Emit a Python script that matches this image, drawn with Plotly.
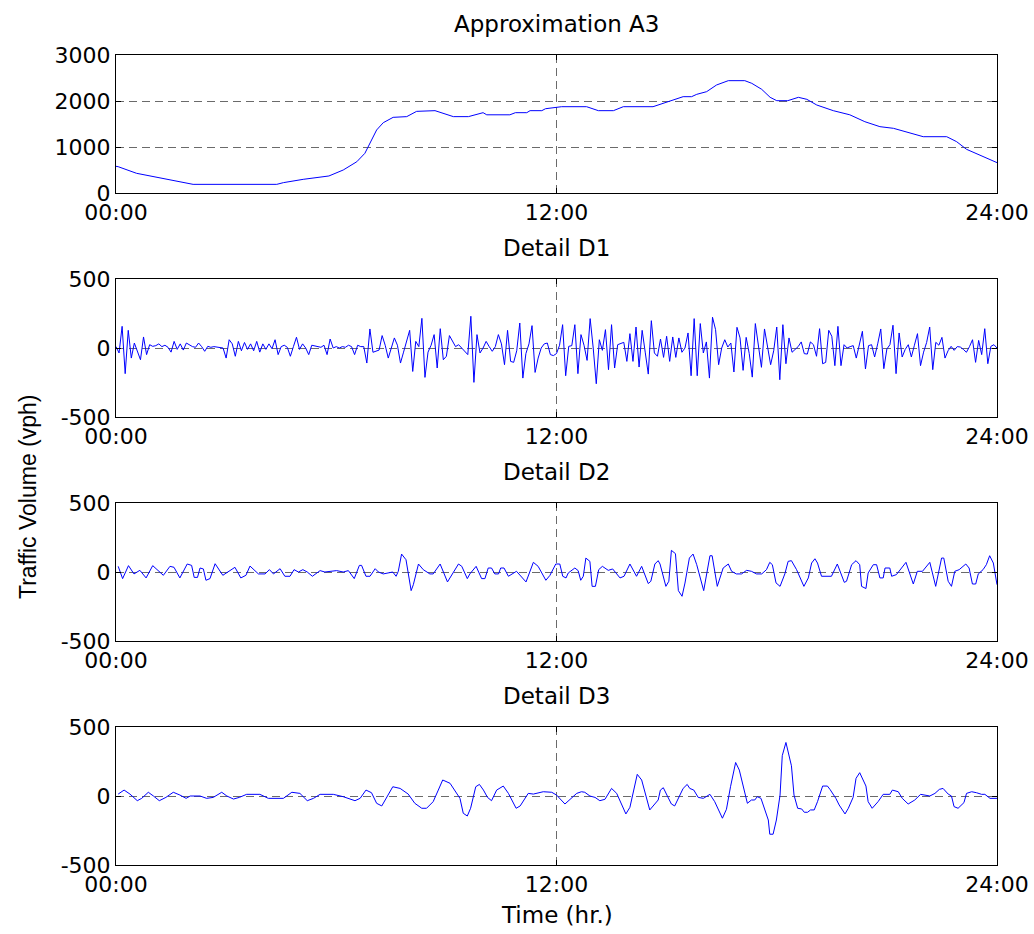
import numpy as np
import plotly.graph_objects as go

# ---------------- data ----------------
x_tick_vals = [0, 12, 24]
x_tick_text = ["00:00", "12:00", "24:00"]

a3_hours = [0.0, 0.06, 0.56, 1.02, 1.56, 2.10, 4.38, 4.56, 5.10, 5.56, 5.80, 6.19, 6.56, 6.78,
            6.97, 7.10, 7.28, 7.55, 7.92, 8.19, 8.69, 8.92, 9.19, 9.60, 9.83, 10.00, 10.10,
            10.73, 10.88, 11.19, 11.28, 11.60, 11.70, 12.14, 12.82, 13.00, 13.14, 13.55, 13.82,
            14.63, 15.09, 15.45, 15.68, 15.82, 16.09, 16.36, 16.68, 17.13, 17.32, 17.59, 17.82,
            18.00, 18.30, 18.59, 18.82, 19.09, 19.54, 19.99, 20.40, 20.81, 21.18, 21.63, 21.99,
            22.63, 22.90, 23.17, 23.54, 24.0]
a3_values = [580, 572, 428, 355, 268, 188, 188, 225, 297, 355, 370, 500, 680, 863,
             1152, 1370, 1528, 1645, 1660, 1775, 1790, 1732, 1660, 1660, 1717, 1746, 1700,
             1700, 1746, 1746, 1790, 1790, 1832, 1876, 1876, 1826, 1790, 1790, 1876,
             1876, 2007, 2094, 2094, 2145, 2203, 2348, 2442, 2442, 2384, 2254, 2080,
             2007, 2007, 2080, 2036, 1913, 1790, 1700, 1550, 1442, 1406, 1311, 1224,
             1224, 1116, 950, 826, 660]

# Detail D1: one value every 5 minutes (289 samples, one row per hour)
d1_values = [
    10, -36, 157, -186, 128, -73, 36, -20, -85, 80, -48, 24,
    12, 17, 30, 10, 20, 5, -30, 48, -10, 30, -15, 36,
    20, 10, 5, 36, 10, -24, 12, 5, 10, 5, 5, 0,
    -73, 60, 30, -60, 48, -20, 40, -10, 30, -20, 48, -30,
    30, -10, 30, -5, 60, -48, 10, 20, 5, -60, 10, 78,
    -10, 30, 0, -48, 20, 15, 10, 5, 20, -48, 65, 0,
    10, 0, 10, 5, 20, 10, -48, 20, 10, 10, -109, 138,
    -31, -20, -15, 90, 20, -73, 0, 73, 20, -109, -30, 40,
    128, -170, 48, 10, 215, -213, -30, 20, 97, -145, 140, -85,
    -60, 90, 48, 10, 24, 0, -20, -48, 230, -249, 97, -36,
    0, 48, 10, -24, 10, 97, 30, -121, 128, -97, -104, -20,
    181, -218, -40, 30, 162, -177, -73, 0, 30, 36, -48, -55,
    -40, 20, 169, -201, 12, 17, 169, -186, 97, 20, -90, 213,
    0, -259, 60, -17, 133, -157, 169, -145, 24, 30, 41, -97,
    104, -97, 152, -138, 128, -30, -189, 198, -36, -60, 65, -68,
    85, -97, 80, -68, 73, -31, 0, 109, -201, 213, -201, 177,
    -36, 44, -218, 223, 133, -121, 0, 60, 7, 36, -174, 150,
    73, -162, 77, -40, -211, 177, 20, -140, 138, 0, -121, -20,
    152, -230, 169, -114, 73, -31, -10, 10, 44, -41, -44, 44,
    24, -60, 140, -114, -104, 128, 85, -128, 157, -128, 24, 0,
    10, 17, -73, 20, 121, -152, 17, 24, -65, 30, 138, -150,
    -7, 24, 165, -186, 109, -65, -10, 24, -65, 20, 104, -128,
    -30, 40, 152, -157, 41, 20, 77, -73, -20, 12, -17, 10,
    7, -10, -31, 10, 60, -104, 55, -48, 140, -114, 12, 24,
    0,
]
d1_hours = np.arange(len(d1_values)) * 24.0 / (len(d1_values) - 1)

d2_hours = [0.06, 0.18, 0.34, 0.49, 0.65, 0.82, 1.00, 1.11, 1.29, 1.47, 1.58, 1.74, 1.94, 2.06,
            2.13, 2.22, 2.29, 2.38, 2.45, 2.56, 2.70, 2.91, 3.24, 3.40, 3.54, 3.65, 3.88, 4.06,
            4.18, 4.29, 4.47, 4.60, 4.74, 4.85, 4.97, 5.09, 5.21, 5.35, 5.56, 5.69, 6.01, 6.19,
            6.33, 6.49, 6.63, 6.69, 6.81, 6.92, 7.06, 7.15, 7.28, 7.54, 7.63, 7.69, 7.78, 7.90,
            7.96, 8.04, 8.10, 8.24, 8.37, 8.55, 8.64, 8.83, 9.03, 9.33, 9.42, 9.57, 9.64, 9.81,
            9.96, 10.05, 10.14, 10.23, 10.32, 10.42, 10.48, 10.57, 10.69, 10.91, 11.17, 11.37,
            11.50, 11.71, 11.82, 11.98, 12.09, 12.17, 12.26, 12.32, 12.50, 12.59, 12.66, 12.73,
            12.80, 12.91, 12.97, 13.06, 13.15, 13.25, 13.41, 13.53, 13.73, 13.84, 14.00, 14.18,
            14.32, 14.50, 14.57, 14.68, 14.77, 14.82, 14.98, 15.06, 15.13, 15.24, 15.32, 15.42,
            15.50, 15.62, 15.72, 15.82, 16.01, 16.18, 16.24, 16.38, 16.54, 16.68, 16.77, 16.90,
            17.04, 17.18, 17.31, 17.45, 17.59, 17.72, 17.81, 17.88, 17.98, 18.09, 18.22, 18.31,
            18.40, 18.54, 18.74, 18.86, 18.95, 19.04, 19.11, 19.22, 19.49, 19.65, 19.84, 19.90,
            20.04, 20.16, 20.26, 20.31, 20.43, 20.49, 20.63, 20.72, 20.81, 20.90, 20.95, 21.08,
            21.13, 21.26, 21.52, 21.72, 21.83, 21.97, 22.17, 22.33, 22.49, 22.55, 22.67, 22.76,
            22.85, 22.97, 23.15, 23.24, 23.33, 23.42, 23.49, 23.62, 23.71, 23.80, 23.90, 24.00]
d2_values = [41, -48, 46, -14, 12, -43, 46, 17, -24, 41, 34, -43, 58, 48,
             -39, -39, 29, 22, -60, -48, 60, -24, 34, -43, -24, 43, -14, -14,
             17, -14, 24, -31, -31, 17, 0, 17, 0, -31, 10, 0, 10, 0,
             10, -48, 48, 48, -31, -31, 24, 0, -14, 0, -31, 5, 130, 89,
             -7, -135, -92, 58, 17, -14, -14, 58, -72, 58, 41, -48, -14, 41,
             -48, -48, 29, 29, -14, -14, 29, 29, -31, 5, -72, 70,
             41, -60, -25, 58, 58, -31, -43, -7, 29, 10, -60, -31,
             101, 77, -104, -104, 17, 41, 12, 22, -43, -31, 58, -31,
             41, -84, -67, 58, 82, 58, -104, -67, 157, 133, -135, -176,
             -80, 101, 130, 53, -135, 118, 118, -104, 29, 58, 5, -14,
             -14, 12, 5, -14, -14, 17, 70, 53, -79, -104, -14, 77,
             82, 17, -104, -43, 65, 96, 65, -31, -31, 58, -75, -67,
             53, 82, 53, -104, -120, -7, 53, 53, -43, -43, 29, 29,
             -31, -19, 70, -87, 5, 5, 70, -104, 101, 101, -67, -104,
             5, 17, 58, 29, -87, -87, -14, 17, 53, 118, 65, -92]

d3_hours = [0.06, 0.22, 0.38, 0.58, 0.70, 0.88, 1.02, 1.18, 1.36, 1.56, 1.74, 1.91, 2.02, 2.29,
            2.47, 2.65, 2.88, 3.02, 3.20, 3.36, 3.56, 3.92, 4.15, 4.56, 4.79, 5.01, 5.21, 5.38,
            5.56, 5.92, 6.19, 6.51, 6.65, 6.81, 6.96, 7.10, 7.24, 7.36, 7.54, 7.74, 7.96, 8.14,
            8.33, 8.46, 8.64, 8.78, 8.90, 9.10, 9.28, 9.37, 9.46, 9.57, 9.66, 9.80, 9.90, 10.01,
            10.12, 10.23, 10.37, 10.55, 10.69, 10.90, 11.01, 11.14, 11.23, 11.37, 11.64, 11.87,
            12.00, 12.23, 12.36, 12.55, 12.68, 12.77, 12.91, 13.05, 13.18, 13.32, 13.50, 13.64,
            13.89, 14.00, 14.20, 14.32, 14.54, 14.71, 14.77, 14.83, 14.91, 15.02, 15.13, 15.22,
            15.32, 15.45, 15.56, 15.63, 15.74, 15.86, 16.00, 16.18, 16.31, 16.52, 16.63, 16.74,
            16.88, 16.98, 17.20, 17.31, 17.40, 17.47, 17.57, 17.68, 17.77, 17.81, 17.90, 17.99,
            18.09, 18.15, 18.25, 18.40, 18.47, 18.57, 18.68, 18.75, 18.84, 18.92, 19.02, 19.11,
            19.25, 19.38, 19.45, 19.61, 19.70, 19.86, 19.95, 20.08, 20.16, 20.26, 20.43, 20.49,
            20.60, 20.76, 20.90, 21.08, 21.15, 21.31, 21.42, 21.58, 21.76, 21.92, 22.03, 22.17,
            22.31, 22.43, 22.53, 22.67, 22.76, 22.83, 22.94, 23.10, 23.17, 23.31, 23.44, 23.58,
            23.67, 23.81, 24.00]
d3_values = [14, 43, 14, -34, -17, 27, 0, -34, -10, 27, 7, -17, 0, 0,
             -17, -10, 27, 0, -22, -10, 12, 12, -17, -17, 27, 19, -34, -17,
             12, 12, -5, -34, -17, 43, 24, -53, -72, -17, 67, 55, 14, -53,
             -89, -89, -41, 43, 116, 92, 19, -17, -125, -145, -89, 67, 84, 43,
             -10, -34, 43, 72, 19, -89, -72, -17, 19, 14, 31, 27,
             7, -58, -29, 19, 31, 27, 0, -10, -34, -24, 55, 19,
             -130, -82, 157, 116, -101, -53, -29, 43, 60, 0, -58, -72,
             -17, 55, 84, 55, 43, -10, -17, 12, -41, -161, -96, 67,
             243, 188, -53, -29, -29, -5, -17, -106, -174, -277, -277, -174,
             7, 292, 388, 219, 7, -89, -94, -118, -118, -101, -101, -41,
             72, 72, 48, -17, -65, -130, -89, -10, 128, 169, 72, -41,
             -89, -41, 12, 12, 43, 31, -17, -58, -29, 12, 7, 0,
             19, 48, 55, 14, 0, -77, -89, -48, 19, 31, 24, 12,
             12, -17, -17]

panel_titles = ["Approximation A3", "Detail D1", "Detail D2", "Detail D3"]
panel_series = [(a3_hours, a3_values), (d1_hours, d1_values), (d2_hours, d2_values), (d3_hours, d3_values)]
panel_yranges = [[0, 3000], [-500, 500], [-500, 500], [-500, 500]]
panel_yticks = [[0, 1000, 2000, 3000], [-500, 0, 500], [-500, 0, 500], [-500, 0, 500]]
panel_yticktext = [["0", "1000", "2000", "3000"], ["-500", "0", "500"], ["-500", "0", "500"], ["-500", "0", "500"]]
y_label = "Traffic Volume (vph)"
x_label = "Time (hr.)"

# ---------------- layout geometry (pixels) ----------------
W, H = 1034, 934
LEFT, RIGHT = 116, 997
panel_px = [(55, 193), (279, 417), (503, 641), (727, 865)]  # top, bottom


def py(p):
    return 1 - p / H


def px(p):
    return p / W


FONT = "DejaVu Sans, Arial, sans-serif"
VFONT = "Liberation Sans, Arial, sans-serif"
FS = 22
TFS = 23
GRID = "#6a6a6a"

fig = go.Figure()
layout = dict(
    width=W, height=H, margin=dict(l=0, r=0, t=0, b=0, autoexpand=False),
    paper_bgcolor="white", plot_bgcolor="white", showlegend=False,
    font=dict(family=FONT, size=FS, color="black"),
)

annotations = []
for i, ((xs, ys), (top, bot)) in enumerate(zip(panel_series, panel_px)):
    n = "" if i == 0 else str(i + 1)
    fig.add_trace(go.Scatter(x=xs, y=ys, mode="lines", line=dict(color="#0000ff", width=1),
                             xaxis="x" + n, yaxis="y" + n, hoverinfo="skip"))
    layout["xaxis" + n] = dict(
        domain=[px(LEFT), px(RIGHT)], anchor="y" + n, range=[0, 24], automargin=False,
        tickmode="array", tickvals=x_tick_vals, ticktext=x_tick_text,
        showline=True, linecolor="black", linewidth=1, mirror="allticks",
        ticks="inside", ticklen=5, tickcolor="black",
        showgrid=True, gridcolor=GRID, griddash="8px,5px", gridwidth=1,
        zeroline=False, tickfont=dict(size=FS, family=FONT, color="black"),
    )
    layout["yaxis" + n] = dict(
        domain=[py(bot), py(top)], anchor="x" + n, range=panel_yranges[i], automargin=False,
        tickmode="array", tickvals=panel_yticks[i], ticktext=panel_yticktext[i],
        showline=True, linecolor="black", linewidth=1, mirror="allticks",
        ticks="inside", ticklen=5, tickcolor="black",
        showgrid=True, gridcolor=GRID, griddash="8px,5px", gridwidth=1,
        zeroline=False, tickfont=dict(size=FS, family=FONT, color="black"),
    )
    annotations.append(dict(text=panel_titles[i], x=px((LEFT + RIGHT) / 2), y=py(top - 31),
                            xref="paper", yref="paper", showarrow=False,
                            xanchor="center", yanchor="middle",
                            font=dict(size=TFS, family=FONT, color="black")))

annotations.append(dict(text=y_label, x=px(28), y=py(497), xref="paper", yref="paper",
                        showarrow=False, textangle=-90, xanchor="center", yanchor="middle",
                        font=dict(size=23, family=VFONT, color="black")))
annotations.append(dict(text=x_label, x=px(557), y=py(915), xref="paper", yref="paper",
                        showarrow=False, xanchor="center", yanchor="middle",
                        font=dict(size=TFS, family=FONT, color="black")))
layout["annotations"] = annotations
fig.update_layout(**layout)

fig.write_html(
    "out.html",
    config={"displayModeBar": False},
    post_script="document.body.style.margin='0';document.body.style.padding='0';"
                "document.body.style.overflow='hidden';"
                "document.documentElement.style.overflow='hidden';",
)
